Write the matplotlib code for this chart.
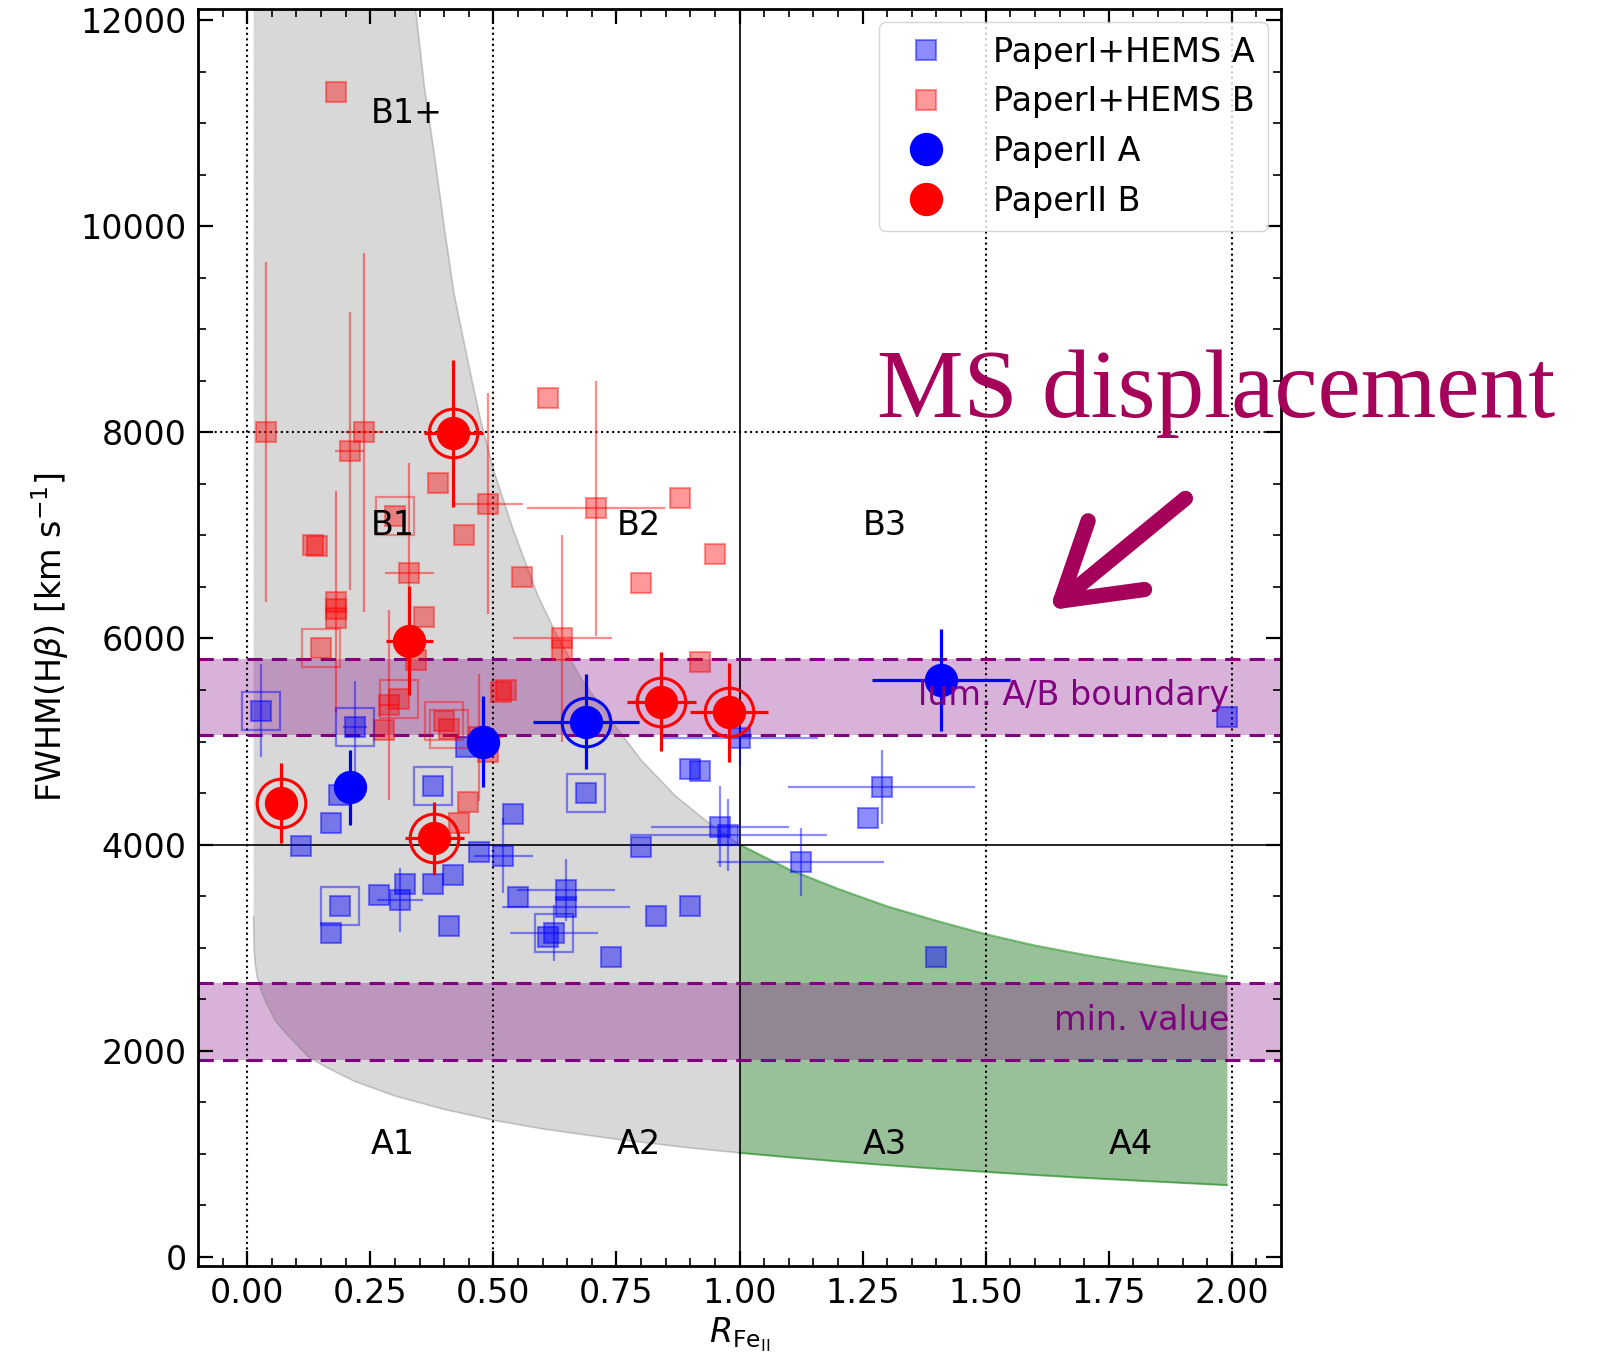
import numpy as np
import matplotlib.pyplot as plt
from matplotlib.patches import ArrowStyle

plt.rcParams['font.size'] = 24

# --- model regions ---
# lower boundary of the grey zone (left edge, then the curve down to x=1)
low_x = [0.013, 0.013, 0.014, 0.016, 0.02, 0.03, 0.04, 0.057, 0.08, 0.124, 0.16, 0.219, 0.3, 0.4,
         0.5, 0.6, 0.75, 0.9, 1.0]
low_y = [12110, 3300, 3000, 2850, 2720, 2560, 2450, 2290, 2160, 1940, 1840, 1700, 1560, 1430,
         1325, 1240, 1140, 1055, 1008]
# upper boundary of the grey zone
up_x = [0.013, 0.342, 0.36, 0.38, 0.40, 0.42, 0.45, 0.475, 0.50, 0.54, 0.59, 0.63, 0.68, 0.735,
        0.80, 0.87, 0.94, 1.0]
up_y = [12110, 12110, 11350, 10700, 10000, 9350, 8650, 8100, 7640, 7060, 6420, 6020, 5600, 5230,
        4820, 4470, 4200, 4000]
# green zone
green_x = [1.0, 1.1, 1.2, 1.3, 1.4, 1.5, 1.6, 1.7, 1.8, 1.9, 1.99]
green_top = [4000, 3760, 3570, 3400, 3260, 3130, 3020, 2930, 2850, 2780, 2720]
green_bot = [1008, 965, 925, 888, 854, 823, 793, 765, 740, 716, 694]

lum_band = [5060, 5800]
min_band = [1910, 2660]

# --- PaperI+HEMS A (blue squares) ---
hems_a_x = [0.029, 0.219, 0.187, 0.170, 0.109, 0.378, 0.444, 0.47, 0.52, 0.539, 0.418, 0.378,
            0.32, 0.31, 0.268, 0.189, 0.170, 0.41, 0.549, 0.688, 0.80, 0.648, 0.648, 0.623, 0.61,
            0.738, 0.83, 0.90, 0.90, 0.92, 0.96, 0.977, 1.124, 1.0, 1.289, 1.26, 1.40, 1.99]
hems_a_y = [5300, 5140, 4480, 4210, 3990, 4570, 4950, 3930, 3890, 4300, 3705, 3615,
            3615, 3460, 3510, 3405, 3140, 3205, 3495, 4500, 3975, 3560, 3390, 3140, 3100,
            2905, 3310, 3405, 4730, 4715, 4175, 4090, 3835, 5030, 4555, 4255, 2905, 5235]
hems_a_err_x = [0.029, 0.219, 0.52, 0.31, 0.648, 0.648, 0.623, 0.96, 0.977, 1.124, 1.0, 1.289]
hems_a_err_y = [5300, 5140, 3890, 3460, 3560, 3390, 3140, 4175, 4090, 3835, 5030, 4555]
hems_a_xerr = [0, 0.025, 0.06, 0.047, 0.1, 0.13, 0.09, 0.14, 0.2, 0.17, 0.16, 0.19]
hems_a_yerr = [450, 450, 365, 310, 300, 0, 270, 390, 350, 330, 270, 360]
hems_a_hl_x = [0.029, 0.219, 0.378, 0.189, 0.688, 0.623]
hems_a_hl_y = [5300, 5140, 4570, 3405, 4500, 3140]

# --- PaperI+HEMS B (red squares) ---
hems_b_x = [0.18, 0.038, 0.238, 0.208, 0.388, 0.49, 0.30, 0.133, 0.142, 0.44, 0.329, 0.18,
            0.18, 0.18, 0.359, 0.15, 0.342, 0.525, 0.515, 0.309, 0.288, 0.278, 0.40, 0.41,
            0.49, 0.47, 0.449, 0.43, 0.611, 0.708, 0.879, 0.95, 0.799, 0.559, 0.64, 0.64, 0.919]
hems_b_y = [11300, 8000, 8000, 7820, 7510, 7310, 7190, 6910, 6900, 7005, 6635, 6355,
            6290, 6195, 6205, 5905, 5790, 5500, 5485, 5415, 5355, 5110, 5195, 5125,
            4900, 5040, 4415, 4205, 8330, 7262, 7367, 6820, 6542, 6600, 6000, 5890, 5775]
hems_b_err_x = [0.038, 0.238, 0.208, 0.49, 0.329, 0.18, 0.288, 0.47, 0.708, 0.64]
hems_b_err_y = [8000, 8000, 7820, 7310, 6635, 6355, 5355, 5040, 7262, 6000]
hems_b_xerr = [0, 0.04, 0.03, 0.07, 0.05, 0, 0.02, 0.05, 0.14, 0.1]
hems_b_yerr = [1650, 1740, 1350, 1070, 1070, 1075, 920, 620, 1240, 1000]
hems_b_hl_x = [0.30, 0.15, 0.309, 0.40, 0.41]
hems_b_hl_y = [7190, 5905, 5415, 5195, 5125]

# --- PaperII ---
p2a_x = [0.2085, 0.478, 0.688, 1.409]
p2a_y = [4555, 5000, 5192, 5597]
p2a_xerr = [0, 0, 0.108, 0.14]
p2a_yerr = [365, 445, 460, 495]
p2a_ring = [False, False, True, False]

p2b_x = [0.068, 0.38, 0.419, 0.329, 0.8406, 0.979]
p2b_y = [4406, 4060, 7992, 5979, 5386, 5283]
p2b_xerr = [0, 0.06, 0.06, 0.048, 0.07, 0.079]
p2b_yerr = [390, 355, 712, 526, 478, 478]
p2b_ring = [True, True, True, False, True, True]

region_labels = ['A1', 'A2', 'A3', 'A4', 'B1', 'B2', 'B3', 'B1+']
region_x = [0.25, 0.75, 1.25, 1.75, 0.25, 0.75, 1.25, 0.25]
region_y = [1000, 1000, 1000, 1000, 7000, 7000, 7000, 11000]

fig = plt.figure(figsize=(16.07, 13.57), dpi=100)
ax = fig.add_axes([0.1232, 0.0671, 0.674, 0.9263])

# grey zone as one polygon: lower curve then upper curve back
ax.fill(low_x + up_x[::-1], low_y + up_y[::-1], color='gray', alpha=0.3, lw=0)
ax.plot(up_x[1:], up_y[1:], color='gray', alpha=0.4, lw=1.2)
ax.plot(low_x[1:], low_y[1:], color='gray', alpha=0.4, lw=1.2)
ax.fill_between(green_x, green_bot, green_top, color='darkgreen', alpha=0.4, lw=0)
ax.plot(green_x, green_top, color='green', alpha=0.5, lw=1.5)
ax.plot(green_x, green_bot, color='green', alpha=0.5, lw=1.5)

for xv in [0, 0.5, 1.5, 2.0]:
    ax.axvline(xv, color='k', ls=':', lw=1.5)
ax.axvline(1.0, color='k', lw=1.2)
ax.axhline(8000, color='k', ls=':', lw=1.5)
ax.axhline(4000, color='k', lw=1.2)

for band in [lum_band, min_band]:
    ax.axhspan(band[0], band[1], color='purple', alpha=0.3, lw=0)
    ax.axhline(band[0], color='purple', ls='--', lw=2.2, dashes=(5, 3))
    ax.axhline(band[1], color='purple', ls='--', lw=2.2, dashes=(5, 3))

ax.text(1.995, 5350, 'lum. A/B boundary', color='purple', ha='right', fontsize=24)
ax.text(1.995, 2200, 'min. value', color='purple', ha='right', fontsize=24)

for lab, xx, yy in zip(region_labels, region_x, region_y):
    ax.text(xx, yy, lab, fontsize=24)

# PaperI + HEMS
ax.errorbar(hems_a_err_x, hems_a_err_y, xerr=hems_a_xerr, yerr=hems_a_yerr, fmt='none',
            ecolor='blue', alpha=0.45, elinewidth=1.6, capsize=0)
ax.errorbar(hems_b_err_x, hems_b_err_y, xerr=hems_b_xerr, yerr=hems_b_yerr, fmt='none',
            ecolor='red', alpha=0.45, elinewidth=1.6, capsize=0)
ax.plot(hems_a_x, hems_a_y, 's', color='blue', alpha=0.45, ms=15, mew=1.5, ls='none',
        label='PaperI+HEMS A')
ax.plot(hems_b_x, hems_b_y, 's', color='red', alpha=0.4, ms=15, mew=1.5, ls='none',
        label='PaperI+HEMS B')
ax.plot(hems_a_hl_x, hems_a_hl_y, 's', mfc='none', mec='blue', alpha=0.45, ms=27, mew=1.6)
ax.plot(hems_b_hl_x, hems_b_hl_y, 's', mfc='none', mec='red', alpha=0.4, ms=27, mew=1.6)

# PaperII
ax.errorbar(p2a_x, p2a_y, xerr=p2a_xerr, yerr=p2a_yerr, fmt='none', ecolor='blue',
            elinewidth=2.3, capsize=0)
ax.errorbar(p2b_x, p2b_y, xerr=p2b_xerr, yerr=p2b_yerr, fmt='none', ecolor='red',
            elinewidth=2.3, capsize=0)
ax.plot(p2a_x, p2a_y, 'o', color='blue', ms=23, ls='none', label='PaperII A')
ax.plot(p2b_x, p2b_y, 'o', color='red', ms=23, ls='none', label='PaperII B')
ax.plot(np.array(p2a_x)[p2a_ring], np.array(p2a_y)[p2a_ring], 'o', mfc='none', mec='blue',
        ms=35, mew=2.2)
ax.plot(np.array(p2b_x)[p2b_ring], np.array(p2b_y)[p2b_ring], 'o', mfc='none', mec='red',
        ms=35, mew=2.2)

ax.set_xlim(-0.1, 2.1)
ax.set_ylim(-90, 12110)
ax.set_xticks(np.arange(0, 2.01, 0.25))
ax.set_xticks(np.arange(-0.1, 2.1, 0.05), minor=True)
ax.set_yticks(np.arange(0, 12001, 2000))
ax.set_yticks(np.arange(0, 12001, 500), minor=True)
ax.tick_params(which='both', direction='in', top=True, right=True, labelsize=24)
ax.tick_params(which='major', length=11, width=1.6, pad=8)
ax.tick_params(which='minor', length=6, width=1.2)
for sp in ax.spines.values():
    sp.set_linewidth(2)

ax.set_xlabel(r'$R_{\mathrm{Fe}_{\mathrm{II}}}$', fontsize=24)
ax.set_ylabel(r'FWHM(H$\beta$) [km s$^{-1}$]', fontsize=24, labelpad=7)

ax.legend(loc='upper right', fontsize=24, borderaxespad=0.4, handletextpad=1.0)

# annotation on the right
fig.text(0.546, 0.693, 'MS displacement', fontsize=70, color='#a5005a',
         family=['Liberation Serif', 'DejaVu Serif'])
ax.annotate('', xy=(0.6516, 0.549), xycoords='figure fraction',
            xytext=(0.739, 0.634), textcoords='figure fraction',
            arrowprops=dict(arrowstyle=ArrowStyle('->', head_length=5.2, head_width=3.2),
                            mutation_scale=10, lw=11, color='#a5005a',
                            capstyle='round', joinstyle='round'),
            annotation_clip=False)

fig.savefig('out.png', dpi=100)
